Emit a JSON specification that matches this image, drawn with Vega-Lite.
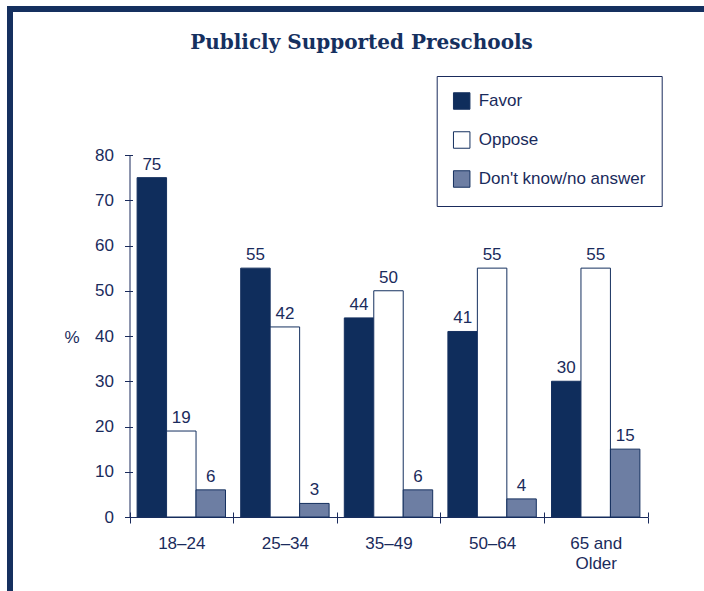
{
  "$schema": "https://vega.github.io/schema/vega-lite/v6.json",
  "width": 760,
  "height": 620,
  "autosize": "none",
  "padding": {"left": 10, "top": 9, "right": -66, "bottom": -38},
  "background": "white",
  "config": {
    "view": {"stroke": "#15305f", "strokeWidth": 6, "fill": "white"},
    "font": "Liberation Sans"
  },
  "title": {
    "text": "Publicly Supported Preschools",
    "font": "DejaVu Serif",
    "fontSize": 20,
    "fontWeight": "bold",
    "color": "#15305f",
    "anchor": "middle",
    "frame": "group",
    "baseline": "alphabetic",
    "offset": 0,
    "dx": -28.5,
    "dy": 60
  },
  "data": {
    "values": [
      {"age": "18–24", "resp": "Favor", "pct": 75},
      {"age": "18–24", "resp": "Oppose", "pct": 19},
      {"age": "18–24", "resp": "Don't know/no answer", "pct": 6},
      {"age": "25–34", "resp": "Favor", "pct": 55},
      {"age": "25–34", "resp": "Oppose", "pct": 42},
      {"age": "25–34", "resp": "Don't know/no answer", "pct": 3},
      {"age": "35–49", "resp": "Favor", "pct": 44},
      {"age": "35–49", "resp": "Oppose", "pct": 50},
      {"age": "35–49", "resp": "Don't know/no answer", "pct": 6},
      {"age": "50–64", "resp": "Favor", "pct": 41},
      {"age": "50–64", "resp": "Oppose", "pct": 55},
      {"age": "50–64", "resp": "Don't know/no answer", "pct": 4},
      {"age": "65 and Older", "resp": "Favor", "pct": 30},
      {"age": "65 and Older", "resp": "Oppose", "pct": 55},
      {"age": "65 and Older", "resp": "Don't know/no answer", "pct": 15}
    ]
  },
  "layer": [
    {
      "mark": {"type": "bar", "stroke": "#15305f", "strokeWidth": 1},
      "encoding": {
        "x": {
          "field": "age",
          "type": "nominal",
          "sort": ["18–24", "25–34", "35–49", "50–64", "65 and Older"],
          "scale": {"range": [119.5, 637.5], "paddingInner": 0, "paddingOuter": 0},
          "axis": {
            "orient": "bottom",
            "offset": -112,
            "title": null,
            "tickBand": "extent",
            "tickSize": 6,
            "tickColor": "#1a2b5c",
            "domainColor": "#1a2b5c",
            "labelColor": "#1a2b5c",
            "labelFontSize": 17,
            "labelFont": "Liberation Sans",
            "labelAngle": 0,
            "labelPadding": 12,
            "labelLineHeight": 20,
            "labelExpr": "datum.value == '65 and Older' ? ['65 and', 'Older'] : datum.value"
          }
        },
        "xOffset": {
          "field": "resp",
          "type": "nominal",
          "sort": ["Favor", "Oppose", "Don't know/no answer"],
          "scale": {"paddingInner": 0, "paddingOuter": 0.258}
        },
        "y": {
          "field": "pct",
          "type": "quantitative",
          "scale": {"domain": [0, 80], "range": [508, 146], "nice": false},
          "axis": {
            "orient": "left",
            "offset": -119.5,
            "values": [0, 10, 20, 30, 40, 50, 60, 70, 80],
            "grid": false,
            "tickSize": 5,
            "tickColor": "#1a2b5c",
            "domainColor": "#1a2b5c",
            "labelColor": "#1a2b5c",
            "labelFontSize": 17,
            "labelFont": "Liberation Sans",
            "labelPadding": 11,
            "title": "%",
            "titleAngle": 0,
            "titleX": -58,
            "titleY": 328,
            "titleAlign": "center",
            "titleBaseline": "middle",
            "titleFontSize": 17,
            "titleFontWeight": "normal",
            "titleFont": "Liberation Sans",
            "titleColor": "#1a2b5c"
          }
        },
        "fill": {
          "field": "resp",
          "type": "nominal",
          "scale": {
            "domain": ["Favor", "Oppose", "Don't know/no answer"],
            "range": ["#0f2d5c", "#ffffff", "#6d7ea3"]
          },
          "legend": {
            "title": null,
            "orient": "none",
            "legendX": 426.7,
            "legendY": 67,
            "padding": 16,
            "strokeColor": "#1a2b5c",
            "fillColor": "white",
            "symbolType": "square",
            "symbolSize": 272,
            "symbolStrokeColor": "#15305f",
            "symbolStrokeWidth": 1,
            "labelFontSize": 17,
            "labelFont": "Liberation Sans",
            "labelColor": "#1a2b5c",
            "labelOffset": 8,
            "labelLimit": 300,
            "rowPadding": 17
          }
        }
      }
    },
    {
      "mark": {"type": "text", "fontSize": 17, "font": "Liberation Sans", "baseline": "alphabetic", "dy": -8, "fill": "#1a2b5c"},
      "encoding": {
        "x": {
          "field": "age",
          "type": "nominal",
          "sort": ["18–24", "25–34", "35–49", "50–64", "65 and Older"],
          "axis": {
            "orient": "bottom",
            "offset": -112,
            "title": null,
            "tickBand": "extent",
            "tickSize": -5,
            "tickColor": "#1a2b5c",
            "domain": false,
            "labels": false
          }
        },
        "xOffset": {
          "field": "resp",
          "type": "nominal",
          "sort": ["Favor", "Oppose", "Don't know/no answer"]
        },
        "y": {
          "field": "pct",
          "type": "quantitative",
          "axis": {
            "orient": "left",
            "offset": -119.5,
            "values": [0, 10, 20, 30, 40, 50, 60, 70, 80],
            "grid": false,
            "tickSize": -3,
            "tickColor": "#1a2b5c",
            "domain": false,
            "labels": false,
            "title": null
          }
        },
        "text": {"field": "pct", "type": "quantitative"}
      }
    }
  ],
  "resolve": {"axis": {"x": "independent", "y": "independent"}}
}
